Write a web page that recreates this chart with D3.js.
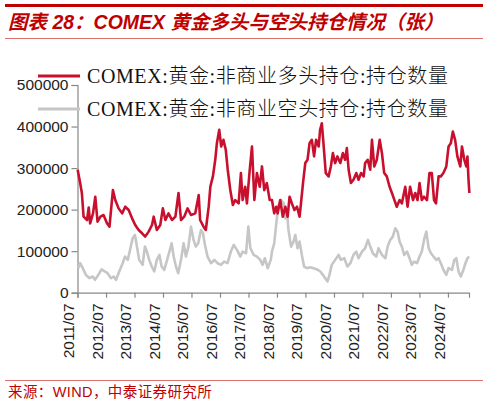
<!DOCTYPE html>
<html><head><meta charset="utf-8">
<script src="https://cdn.jsdelivr.net/npm/d3@7"></script>
<style>
html,body{margin:0;padding:0;background:#fff;}
svg{display:block;}
</style></head>
<body>
<svg id="c" width="488" height="404"></svg>
<script>
const titleText = "图表 28：COMEX 黄金多头与空头持仓情况（张）";
const sourceText = "来源：WIND，中泰证券研究所";
const seriesNames = ["COMEX:黄金:非商业多头持仓:持仓数量", "COMEX:黄金:非商业空头持仓:持仓数量"];
const yTicks = [0, 100000, 200000, 300000, 400000, 500000];
const xTickYears = [2011,2012,2013,2014,2015,2016,2017,2018,2019,2020,2021,2022,2023,2024];

// 非商业多头持仓 (decimal year, contracts)
const longT = [2011.50,2011.59,2011.65,2011.71,2011.83,2011.89,2011.94,2012.04,2012.12,2012.20,2012.30,2012.41,2012.53,2012.62,2012.74,2012.82,2012.94,2013.06,2013.17,2013.29,2013.41,2013.52,2013.64,2013.76,2013.87,2013.99,2014.11,2014.17,2014.28,2014.40,2014.49,2014.58,2014.69,2014.81,2014.93,2015.04,2015.13,2015.24,2015.36,2015.48,2015.63,2015.75,2015.80,2015.92,2016.00,2016.10,2016.16,2016.25,2016.33,2016.39,2016.47,2016.54,2016.62,2016.70,2016.77,2016.86,2016.95,2017.03,2017.15,2017.23,2017.29,2017.38,2017.44,2017.54,2017.62,2017.70,2017.79,2017.89,2017.97,2018.05,2018.14,2018.24,2018.32,2018.40,2018.47,2018.52,2018.61,2018.70,2018.79,2018.87,2018.94,2019.02,2019.11,2019.20,2019.29,2019.34,2019.41,2019.49,2019.57,2019.64,2019.72,2019.80,2019.87,2019.96,2020.01,2020.07,2020.13,2020.21,2020.31,2020.39,2020.46,2020.54,2020.62,2020.72,2020.81,2020.89,2020.95,2021.01,2021.09,2021.18,2021.28,2021.36,2021.45,2021.54,2021.59,2021.68,2021.77,2021.83,2021.91,2022.00,2022.10,2022.18,2022.26,2022.35,2022.45,2022.53,2022.62,2022.70,2022.80,2022.88,2023.00,2023.08,2023.17,2023.27,2023.35,2023.43,2023.50,2023.58,2023.66,2023.76,2023.85,2023.93,2024.01,2024.08,2024.17,2024.25,2024.34,2024.44,2024.52,2024.60,2024.67,2024.75,2024.83,2024.93,2024.99,2025.07,2025.14,2025.18,2025.22,2025.25];
const longV = [296000,264000,240000,183000,175000,205000,167000,191000,231000,171000,183000,187000,167000,159000,247000,223000,203000,191000,207000,199000,179000,163000,151000,143000,135000,147000,163000,183000,151000,163000,203000,175000,191000,175000,183000,240000,175000,183000,203000,187000,191000,235000,175000,159000,151000,207000,255000,280000,320000,360000,392000,352000,368000,344000,296000,247000,211000,223000,215000,288000,223000,255000,215000,296000,352000,223000,288000,255000,304000,247000,264000,223000,223000,191000,207000,191000,223000,183000,207000,183000,231000,215000,199000,207000,183000,215000,264000,312000,320000,360000,368000,328000,368000,352000,392000,408000,360000,288000,280000,304000,336000,312000,328000,312000,336000,320000,348000,296000,264000,272000,288000,272000,288000,280000,312000,320000,296000,368000,304000,320000,368000,336000,288000,280000,255000,240000,223000,207000,223000,215000,255000,207000,255000,223000,240000,223000,264000,223000,231000,223000,288000,288000,223000,215000,280000,280000,288000,304000,352000,360000,388000,368000,328000,304000,352000,320000,304000,328000,272000,240000];

// 非商业空头持仓 (decimal year, contracts)
const shortT = [2011.52,2011.59,2011.68,2011.79,2011.91,2012.03,2012.11,2012.23,2012.34,2012.46,2012.55,2012.67,2012.77,2012.85,2012.96,2013.08,2013.16,2013.26,2013.35,2013.43,2013.51,2013.58,2013.66,2013.78,2013.86,2013.93,2014.01,2014.10,2014.19,2014.28,2014.37,2014.45,2014.54,2014.64,2014.72,2014.80,2014.87,2014.95,2015.03,2015.13,2015.22,2015.30,2015.39,2015.48,2015.57,2015.65,2015.73,2015.83,2015.90,2015.97,2016.06,2016.18,2016.30,2016.41,2016.53,2016.65,2016.76,2016.88,2016.98,2017.09,2017.21,2017.29,2017.41,2017.49,2017.56,2017.68,2017.79,2017.91,2017.99,2018.07,2018.17,2018.28,2018.32,2018.40,2018.47,2018.55,2018.64,2018.73,2018.79,2018.85,2018.90,2018.99,2019.08,2019.14,2019.22,2019.29,2019.37,2019.45,2019.55,2019.66,2019.78,2019.90,2020.02,2020.11,2020.19,2020.27,2020.34,2020.42,2020.54,2020.66,2020.74,2020.86,2020.97,2021.07,2021.18,2021.28,2021.36,2021.48,2021.59,2021.69,2021.77,2021.86,2021.98,2022.06,2022.18,2022.30,2022.38,2022.47,2022.56,2022.65,2022.73,2022.80,2022.88,2022.96,2023.06,2023.15,2023.23,2023.31,2023.41,2023.50,2023.58,2023.67,2023.74,2023.82,2023.90,2023.99,2024.09,2024.17,2024.25,2024.34,2024.44,2024.52,2024.64,2024.72,2024.79,2024.87,2024.95,2025.04,2025.11,2025.18,2025.24];
const shortV = [59000,71000,59000,43000,35000,39000,31000,43000,56000,51000,47000,35000,39000,31000,51000,71000,87000,79000,107000,131000,139000,111000,79000,67000,111000,99000,79000,63000,51000,79000,91000,63000,55000,79000,99000,119000,87000,63000,47000,79000,119000,87000,111000,159000,127000,111000,119000,151000,143000,115000,87000,71000,79000,71000,67000,75000,71000,99000,115000,103000,87000,99000,95000,159000,107000,91000,87000,79000,67000,83000,59000,79000,99000,119000,167000,211000,223000,215000,179000,195000,151000,111000,123000,139000,107000,123000,91000,63000,59000,61000,59000,56000,51000,43000,35000,27000,43000,67000,79000,91000,79000,83000,63000,71000,91000,99000,83000,99000,107000,127000,111000,95000,87000,107000,91000,83000,111000,127000,135000,155000,147000,123000,111000,91000,99000,83000,67000,75000,71000,87000,99000,131000,147000,107000,95000,87000,79000,83000,71000,55000,43000,59000,55000,79000,83000,51000,39000,55000,71000,83000,87000];

function toDate(y){ const yr = Math.floor(y); const f = y - yr; return new Date(yr, 0, 1 + Math.round(f*365.25)); }

const svg = d3.select("#c");
const RED = "#c00000";
const LINE_RED = "#c8102e";
const GREY = "#c6c6c6";

// header
svg.append("line").attr("x1",5).attr("x2",483).attr("y1",5.5).attr("y2",5.5).attr("stroke",RED).attr("stroke-width",3);
svg.append("text").attr("x",8).attr("y",29).text(titleText)
  .attr("fill",RED).attr("font-family","Arial, 'Noto Sans CJK SC', sans-serif")
  .attr("font-size",19.5).attr("font-weight","bold").attr("font-style","italic");
svg.append("line").attr("x1",5).attr("x2",483).attr("y1",38.5).attr("y2",38.5).attr("stroke","#e07070").attr("stroke-width",1);

// footer
svg.append("line").attr("x1",5).attr("x2",483).attr("y1",380.5).attr("y2",380.5).attr("stroke","#e07070").attr("stroke-width",1);
svg.append("text").attr("x",8).attr("y",397).text(sourceText)
  .attr("fill",RED).attr("font-family","Arial, 'Noto Sans CJK SC', sans-serif")
  .attr("font-size",14.5).attr("letter-spacing",0.4);

// scales
const x = d3.scaleTime().domain([new Date(2011,6,1), new Date(2025,2,28)]).range([77.5, 469]);
const y = d3.scaleLinear().domain([0, 500000]).range([292.7, 85]);

const gY = svg.append("g").attr("transform","translate(77.5,0)")
  .call(d3.axisLeft(y).tickValues(yTicks).tickFormat(d3.format("d")).tickSizeOuter(0).tickSize(6).tickPadding(3));
gY.select(".domain").attr("stroke","#888").attr("stroke-width",1.2);
gY.selectAll(".tick line").attr("stroke","#888").attr("stroke-width",1.2);
gY.selectAll(".tick text").attr("font-family","Arial, 'Liberation Sans', sans-serif").attr("font-size",15.5).attr("fill","#222");

const gX = svg.append("g").attr("transform","translate(0,292.7)")
  .call(d3.axisBottom(x).tickValues(xTickYears.map(yy=>new Date(yy,6,1))).tickFormat(d3.timeFormat("%Y/%m")).tickSizeOuter(0).tickSize(5));
gX.select(".domain").attr("stroke","#888").attr("stroke-width",1.2);
gX.selectAll(".tick line").attr("stroke","#888").attr("stroke-width",1.2);
gX.selectAll(".tick text").attr("font-family","Arial, 'Liberation Sans', sans-serif").attr("font-size",15.5).attr("fill","#222")
  .attr("transform","rotate(-90)").attr("text-anchor","end").attr("dx","-0.5em").attr("dy","-0.5em").attr("y",0).attr("x",-3)
  .style("dominant-baseline","middle");

// lines
const longData = longT.map((t,i)=>({d:toDate(t), v:longV[i]}));
const shortData = shortT.map((t,i)=>({d:toDate(t), v:shortV[i]}));
const line = d3.line().x(p=>x(p.d)).y(p=>y(p.v));
svg.append("path").datum(shortData).attr("d",line).attr("fill","none").attr("stroke",GREY).attr("stroke-width",2.6).attr("stroke-linejoin","round");
svg.append("path").datum(longData).attr("d",line).attr("fill","none").attr("stroke",LINE_RED).attr("stroke-width",2.6).attr("stroke-linejoin","round");

// legend
const legend = [{n:seriesNames[0], c:LINE_RED, y:76},{n:seriesNames[1], c:GREY, y:109}];
legend.forEach(l=>{
  svg.append("line").attr("x1",38).attr("x2",80).attr("y1",l.y).attr("y2",l.y).attr("stroke",l.c).attr("stroke-width",3);
  svg.append("text").attr("x",87).attr("y",l.y+7).text(l.n)
    .attr("font-family","'Liberation Serif', 'Times New Roman', 'Noto Sans CJK SC', serif")
    .attr("font-size",20).attr("font-weight",300).attr("letter-spacing",0.6).attr("fill","#111");
});
</script>
</body></html>
